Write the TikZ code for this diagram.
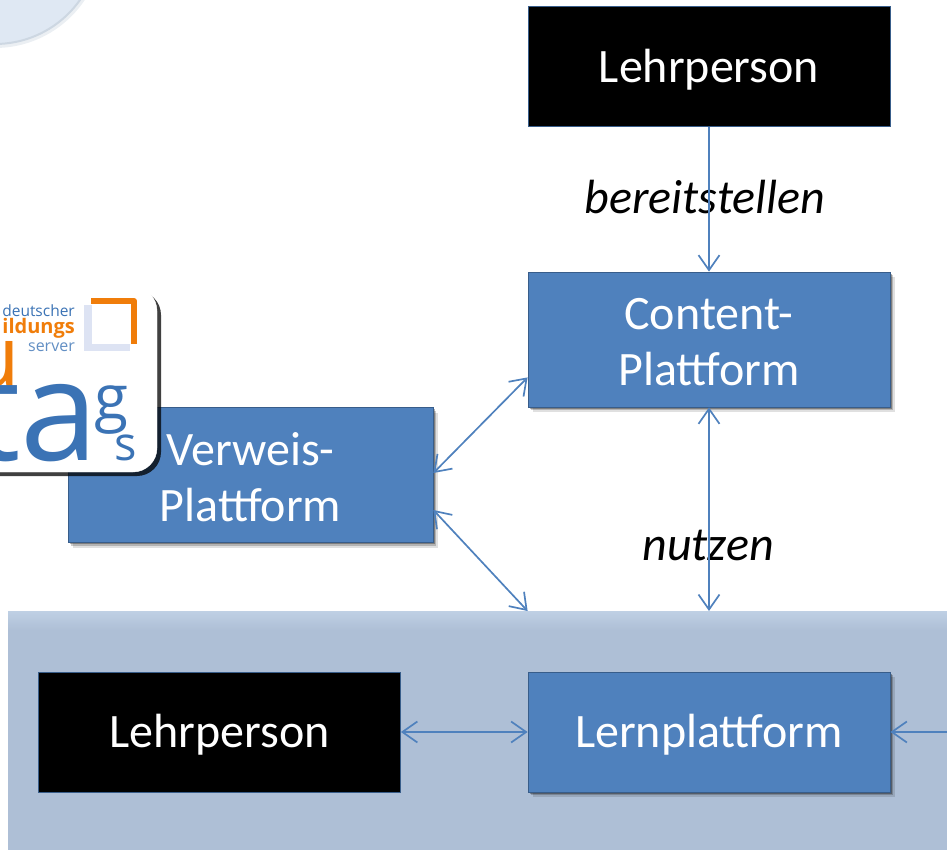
\documentclass[tikz,border=0pt]{standalone}
\usepackage{fontspec}
\usepackage{xcolor}
\setmainfont{Carlito}
\newfontfamily\logofont{Open Sans}
\usetikzlibrary{arrows.meta,calc,shadows}
\definecolor{boxblue}{HTML}{4F81BD}
\definecolor{boxedge}{HTML}{385D8A}
\definecolor{panelblue}{HTML}{AEBFD6}
\definecolor{paneltop}{HTML}{BFD0E4}
\definecolor{logoblue}{HTML}{3B73B5}
\definecolor{logoorange}{HTML}{F07D0A}
\definecolor{logolilac}{HTML}{DDE3F3}
\tikzset{
    softshadow/.style={
        drop shadow={shadow xshift=5pt,shadow yshift=-5pt,opacity=.12,fill=black},
        drop shadow={shadow xshift=3pt,shadow yshift=-3pt,opacity=.2,fill=black},
        drop shadow={shadow xshift=1.5pt,shadow yshift=-1.5pt,opacity=.3,fill=black}},
    platform/.style={draw=boxedge,line width=.8pt,fill=boxblue,text=white,
        minimum width=362pt,align=center,font=\fontsize{48}{56}\selectfont,softshadow},
    person/.style={draw=boxedge,line width=.8pt,fill=black,text=white,text depth=2pt,
        minimum width=362pt,minimum height=120pt,font=\fontsize{48}{56}\selectfont},
    verb/.style={font=\fontsize{48}{56}\selectfont\itshape},
    link/.style={draw=boxblue,line width=1.7pt,{Straight Barb[length=15pt,width=21pt]}-{Straight Barb[length=15pt,width=21pt]}},
    feed/.style={draw=boxblue,line width=1.7pt,-{Straight Barb[length=15pt,width=21pt]}}
}
\begin{document}
\begin{tikzpicture}[x=1pt, y=-1pt]
    \useasboundingbox (0,0) rectangle (947,850);
    % Background shapes
    \begin{scope}
        \clip (0,0) rectangle (947,850);
        \fill[boxedge!10] (-5,-60) circle (108);
        \draw[fill=boxblue!18,draw=boxedge!25,line width=2pt] (-5,-60) circle (104);
    \end{scope}
    % Sink
    \node[fill=panelblue,minimum width=939pt,minimum height=239pt,inner sep=0pt,outer sep=0pt] (lms) at (477.5,730.5) {};
    \shade[top color=paneltop,bottom color=panelblue] (lms.north west) rectangle ([yshift=-19pt]lms.north east);

    % Boxes
    \node[person] (teacher) at (709,66.5) {Lehrperson};
    \node[platform,minimum height=135pt,text height=92.5pt] (content) at (709,339.5) {Content-\\Plattform};
    \node[platform,minimum width=365pt,minimum height=135pt,text height=92.5pt] (verweis) at (250.5,475) {Verweis-\\Plattform};
    \node[person] (localteacher) at (219.5,732) {Lehrperson};
    \node[platform,minimum height=120pt,text depth=2pt] (lernen) at (709,732) {Lernplattform};

    % Logo
    \begin{scope}
        \clip (0,270) rectangle (200,490);
        \draw[fill=white,draw=white,rounded corners=24pt,
            drop shadow={shadow xshift=4pt,shadow yshift=-4pt,opacity=.75,fill=black}]
            (-60,287) rectangle (157,472);
        \fill[logolilac] (84,305) rectangle (130,351);
        \fill[white] (92,298) rectangle (137,344);
        \draw[logoorange,line width=6pt,line join=round] (91,301) -- (134,301) -- (134,344);
        \node[anchor=base east,inner sep=0pt,text=logoblue,font=\logofont\fontsize{15.5}{16}\selectfont] (logodeutsch) at (75,316) {deutscher};
        \node[anchor=base east,inner sep=0pt,text=logoorange,font=\logofont\bfseries\fontsize{20}{20}\selectfont] (logobildung) at (75,333) {ildungs};
        \node[anchor=base east,inner sep=0pt,text=logoblue!80,font=\logofont\fontsize{16}{16}\selectfont] (logoserver) at (75,351) {server};
        \node[anchor=base east,inner sep=0pt,text=logoorange,font=\logofont\fontsize{86}{86}\selectfont] (logou) at (20,387) {u};
        \node[anchor=base east,inner sep=0pt,text=logoblue,font=\logofont\fontsize{140}{140}\selectfont] (logota) at (99,460) {ta};
        \node[anchor=base,inner sep=0pt,text=logoblue,font=\logofont\fontsize{62}{62}\selectfont] (logog) at (111,419) {g};
        \node[anchor=base,inner sep=0pt,text=logoblue,font=\logofont\fontsize{47}{47}\selectfont] (logos) at (126,460) {s};
    \end{scope}

    % Labels
    \node[verb] (provide) at (705,197) {bereitstellen};
    \node[verb] (use) at (708,545) {nutzen};

    % Connectors
    \draw[feed] (teacher.south) -- (content.north);
    \draw[link] (content.south) -- (content.south |- lms.north);
    \draw[link] ([yshift=30pt]content.south west) -- ([yshift=2pt]verweis.east);
    \draw[link] ([yshift=-35pt]verweis.east) -- (content.south west |- lms.north);
    \draw[link] (localteacher.east) -- (lernen.west);
    \draw[feed] (lms.east |- lernen.east) -- (lernen.east);
\end{tikzpicture}
\end{document}
